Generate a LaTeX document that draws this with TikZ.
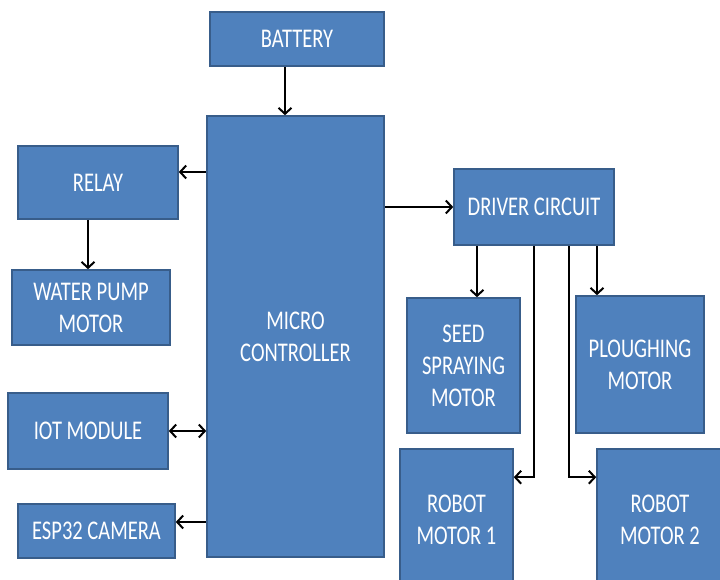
\documentclass[tikz,border=0pt]{standalone}
\usepackage{fontspec}
\setmainfont{Carlito}[FakeStretch=0.76]
\usetikzlibrary{arrows.meta}
\definecolor{blkfill}{HTML}{4F81BD}
\definecolor{blkline}{HTML}{385D8A}
\tikzset{
  blk/.style={draw=blkline,line width=0.8pt,fill=blkfill,text=white,inner sep=1pt,align=center,
    font=\fontsize{13.5}{16}\selectfont},
  arr/.style={line width=1pt,-{Straight Barb[length=3pt,width=6.5pt]}},
  arrboth/.style={line width=1pt,{Straight Barb[length=3pt,width=6.5pt]}-{Straight Barb[length=3pt,width=6.5pt]}}
}
\begin{document}
\begin{tikzpicture}[x=0.5pt,y=-0.5pt]
  \useasboundingbox (0,0) rectangle (720,580);
  \node[blk,minimum width=87pt,minimum height=27pt] (bat) at (297,39) {BATTERY};
  \node[blk,minimum width=88.5pt,minimum height=220.5pt] (mcu) at (295.5,336.5) {MICRO\\CONTROLLER};
  \node[blk,minimum width=80pt,minimum height=36.5pt] (rel) at (98,182.5) {RELAY};
  \node[blk,minimum width=79pt,minimum height=37.5pt] (wpm) at (91,307.5) {WATER PUMP\\MOTOR};
  \node[blk,minimum width=80pt,minimum height=38pt] (iot) at (88,431) {IOT MODULE};
  \node[blk,minimum width=78.5pt,minimum height=27pt] (cam) at (96.5,531) {ESP32 CAMERA};
  \node[blk,minimum width=80pt,minimum height=38pt] (drv) at (534,207) {DRIVER CIRCUIT};
  \node[blk,minimum width=56.5pt,minimum height=67.5pt] (sed) at (463.5,365.5) {SEED\\SPRAYING\\MOTOR};
  \node[blk,minimum width=64pt,minimum height=68.5pt] (plo) at (640,364.5) {PLOUGHING\\MOTOR};
  \node[blk,minimum width=56.5pt,minimum height=70.5pt] (rm1) at (456.5,519.5) {ROBOT\\MOTOR 1};
  \node[blk,minimum width=63pt,minimum height=70.5pt] (rm2) at (660,519.5) {ROBOT\\MOTOR 2};
  \coordinate (b1) at ([xshift=-6pt]bat.south);
  \coordinate (r1) at ([yshift=5.25pt]rel.east);
  \coordinate (w1) at ([xshift=-1.5pt]wpm.north);
  \coordinate (c1) at ([yshift=4.5pt]cam.east);
  \coordinate (d1) at ([xshift=-28.5pt]drv.south);
  \coordinate (d2) at ([xshift=17.5pt]drv.south);
  \coordinate (d3) at ([xshift=31.5pt]drv.south);
  \coordinate (m1) at ([yshift=-14.5pt]rm1.north east);
  \coordinate (m2) at ([yshift=-14.5pt]rm2.north west);
  \draw[arr] (b1) -- (b1 |- mcu.north);
  \draw[arr] (r1 -| mcu.west) -- (r1);
  \draw[arr] (w1 |- rel.south) -- (w1);
  \draw[arrboth] (iot.east) -- (iot.east -| mcu.west);
  \draw[arr] (c1 -| mcu.west) -- (c1);
  \draw[arr] (mcu.east |- drv.west) -- (drv.west);
  \draw[arr] (d1) -- (d1 |- sed.north);
  \draw[arr] (d3) -- (d3 |- plo.north);
  \draw[arr] (drv.south) |- (m1);
  \draw[arr] (d2) |- (m2);
\end{tikzpicture}
\end{document}
